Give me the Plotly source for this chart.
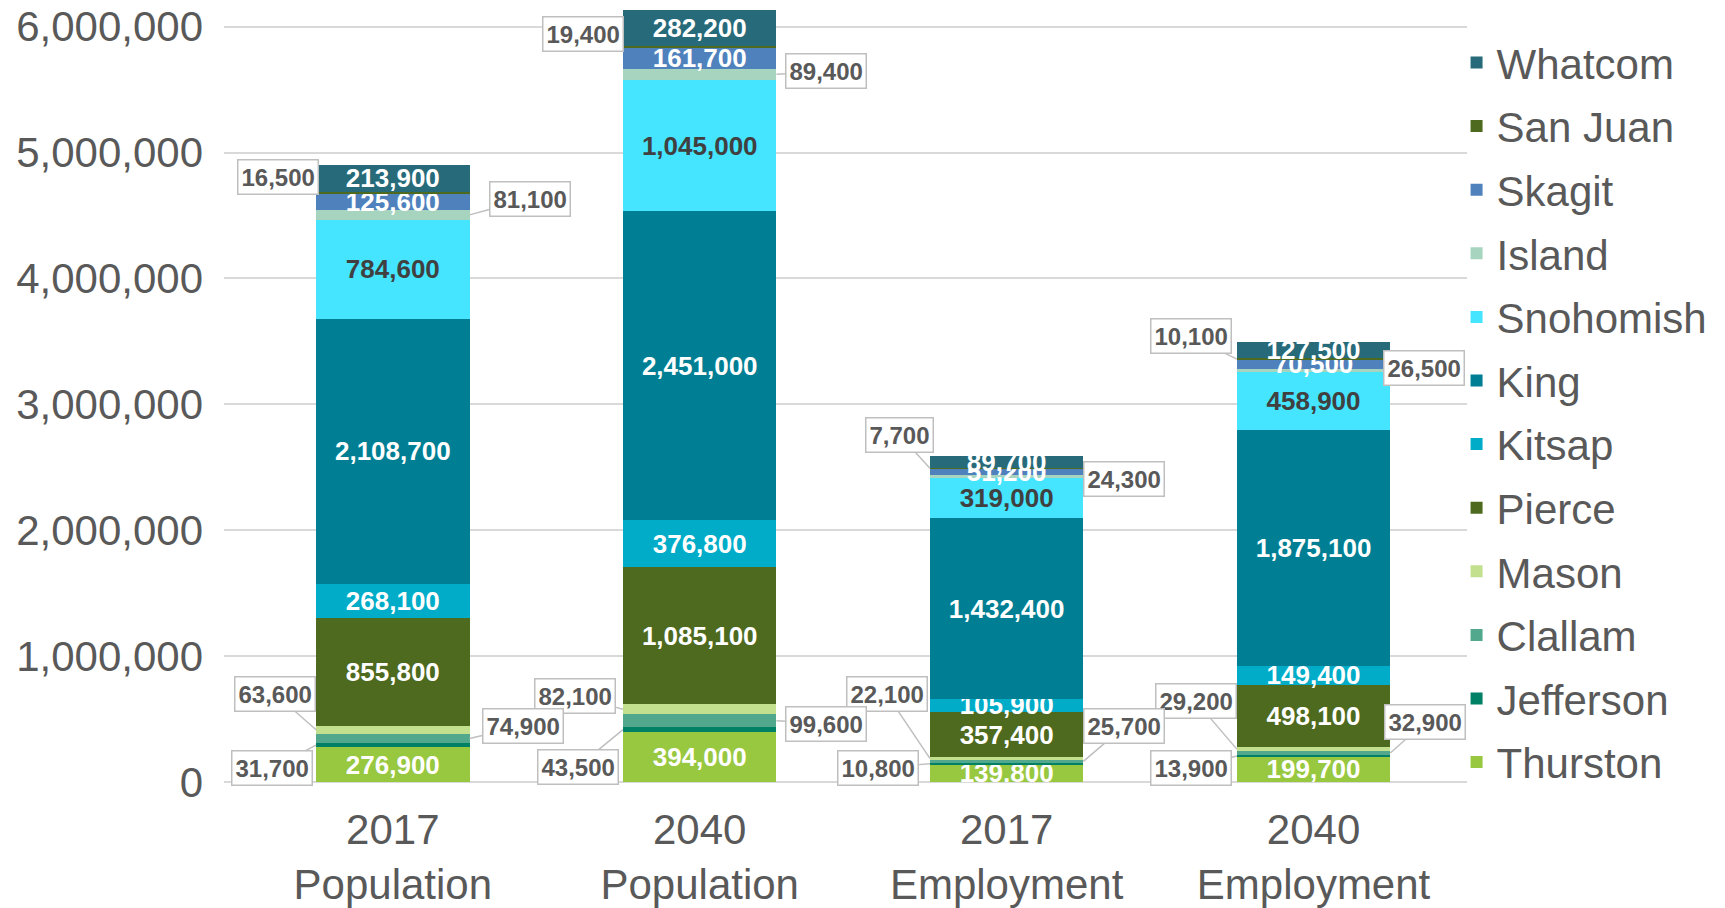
import numpy as np
import plotly.graph_objects as go

categories = ["2017<br>Population", "2040<br>Population", "2017<br>Employment", "2040<br>Employment"]

# stacked bottom -> top
thurston = [276900, 394000, 139800, 199700]
jefferson = [31700, 43500, 10800, 13900]
clallam = [74900, 99600, 25700, 32900]
mason = [63600, 82100, 22100, 29200]
pierce = [855800, 1085100, 357400, 498100]
kitsap = [268100, 376800, 105900, 149400]
king = [2108700, 2451000, 1432400, 1875100]
snohomish = [784600, 1045000, 319000, 458900]
island = [81100, 89400, 24300, 26500]
skagit = [125600, 161700, 51200, 70500]
san_juan = [16500, 19400, 7700, 10100]
whatcom = [213900, 282200, 89700, 127500]

series = [
    ("Thurston", thurston, "#98c83f", "white"),
    ("Jefferson", jefferson, "#008064", None),
    ("Clallam", clallam, "#52a88c", None),
    ("Mason", mason, "#c3e08f", None),
    ("Pierce", pierce, "#4e6a1f", "white"),
    ("Kitsap", kitsap, "#00acc8", "white"),
    ("King", king, "#007f94", "white"),
    ("Snohomish", snohomish, "#45e4ff", "#404040"),
    ("Island", island, "#a6d4bf", None),
    ("Skagit", skagit, "#4f81bd", "white"),
    ("San Juan", san_juan, "#4d6a1e", None),
    ("Whatcom", whatcom, "#276a7a", "white"),
]

# callout offsets (px) of the label boxes for the thin segments, per bar
callouts = {
    "San Juan": ("left", [(-38, -16), (-40, -13), (-30, -33), (-46, -23)]),
    "Island": ("right", [(60, -16), (50, -3), (41, 2), (34, -2)]),
    "Mason": ("left", [(-41, -36), (-48, -13), (-43, -64), (-41, -48)]),
    "Clallam": ("right", [(53, -12), (50, 3), (41, -35), (35, -31)]),
    "Jefferson": ("left", [(-44, 23), (-45, 37), (-52, 4), (-46, 12)]),
}

FONT = "Liberation Sans, Arial, sans-serif"
GREY = "#595959"
BAR_W = 0.5

fig = go.Figure()
n = len(series)
for i, (name, vals, color, tcolor) in enumerate(series):
    fig.add_trace(go.Bar(
        x=categories,
        y=vals,
        name=name,
        width=BAR_W,
        marker=dict(color=color, line=dict(width=0)),
        text=[f"{v:,}" for v in vals] if tcolor else None,
        textposition="inside",
        insidetextanchor="middle",
        textangle=0,
        constraintext="none",
        textfont=dict(family=FONT, size=26, color=tcolor or "white", weight="bold"),
        legendgroup=name,
        legendrank=n - i,
        hoverinfo="skip",
    ))

# callout labels
stack = np.array([s[1] for s in series], dtype=float)
bottoms = np.vstack([np.zeros(stack.shape[1]), np.cumsum(stack, axis=0)[:-1]])
names = [s[0] for s in series]
for name, (side, offs) in callouts.items():
    k = names.index(name)
    for j in range(len(categories)):
        val = stack[k, j]
        ymid = bottoms[k, j] + val / 2
        xe = j - BAR_W / 2 if side == "left" else j + BAR_W / 2
        ax, ay = offs[j]
        fig.add_annotation(
            x=xe, y=ymid, xref="x", yref="y",
            text=f"{int(val):,}",
            showarrow=True, arrowhead=0, arrowwidth=1.5, arrowcolor="#bfbfbf",
            standoff=0, ax=ax, ay=ay,
            bgcolor="white", bordercolor="#bfbfbf", borderwidth=1.5, borderpad=3,
            font=dict(family=FONT, size=24, color=GREY, weight="bold"),
        )

fig.update_layout(
    barmode="stack",
    width=1717, height=900,
    margin=dict(l=216, r=258, t=1, b=126, autoexpand=False),
    paper_bgcolor="white", plot_bgcolor="white",
    font=dict(family=FONT, color=GREY),
    showlegend=True,
    legend=dict(
        x=0.9916, y=0.977, xanchor="left", yanchor="top", yref="container",
        font=dict(family=FONT, size=42, color=GREY),
        tracegroupgap=6, maxheight=900,
        bgcolor="rgba(0,0,0,0)",
    ),
)
fig.update_xaxes(
    range=[-0.55, 3.5],
    tickfont=dict(family=FONT, size=42, color=GREY),
    showgrid=False, showline=False, ticks="",
    ticklabelstandoff=19, automargin=False,
    ticklabeloverflow="allow",
)
fig.update_yaxes(
    range=[0, 6140000],
    dtick=1000000,
    tickformat=",",
    tickfont=dict(family=FONT, size=42, color=GREY),
    gridcolor="#d9d9d9", gridwidth=1.5,
    zeroline=True, zerolinecolor="#d9d9d9", zerolinewidth=1.5,
    showline=False, ticks="",
    ticklabelstandoff=20, automargin=False,
    ticklabeloverflow="allow",
)

fig.write_html("out.html")
